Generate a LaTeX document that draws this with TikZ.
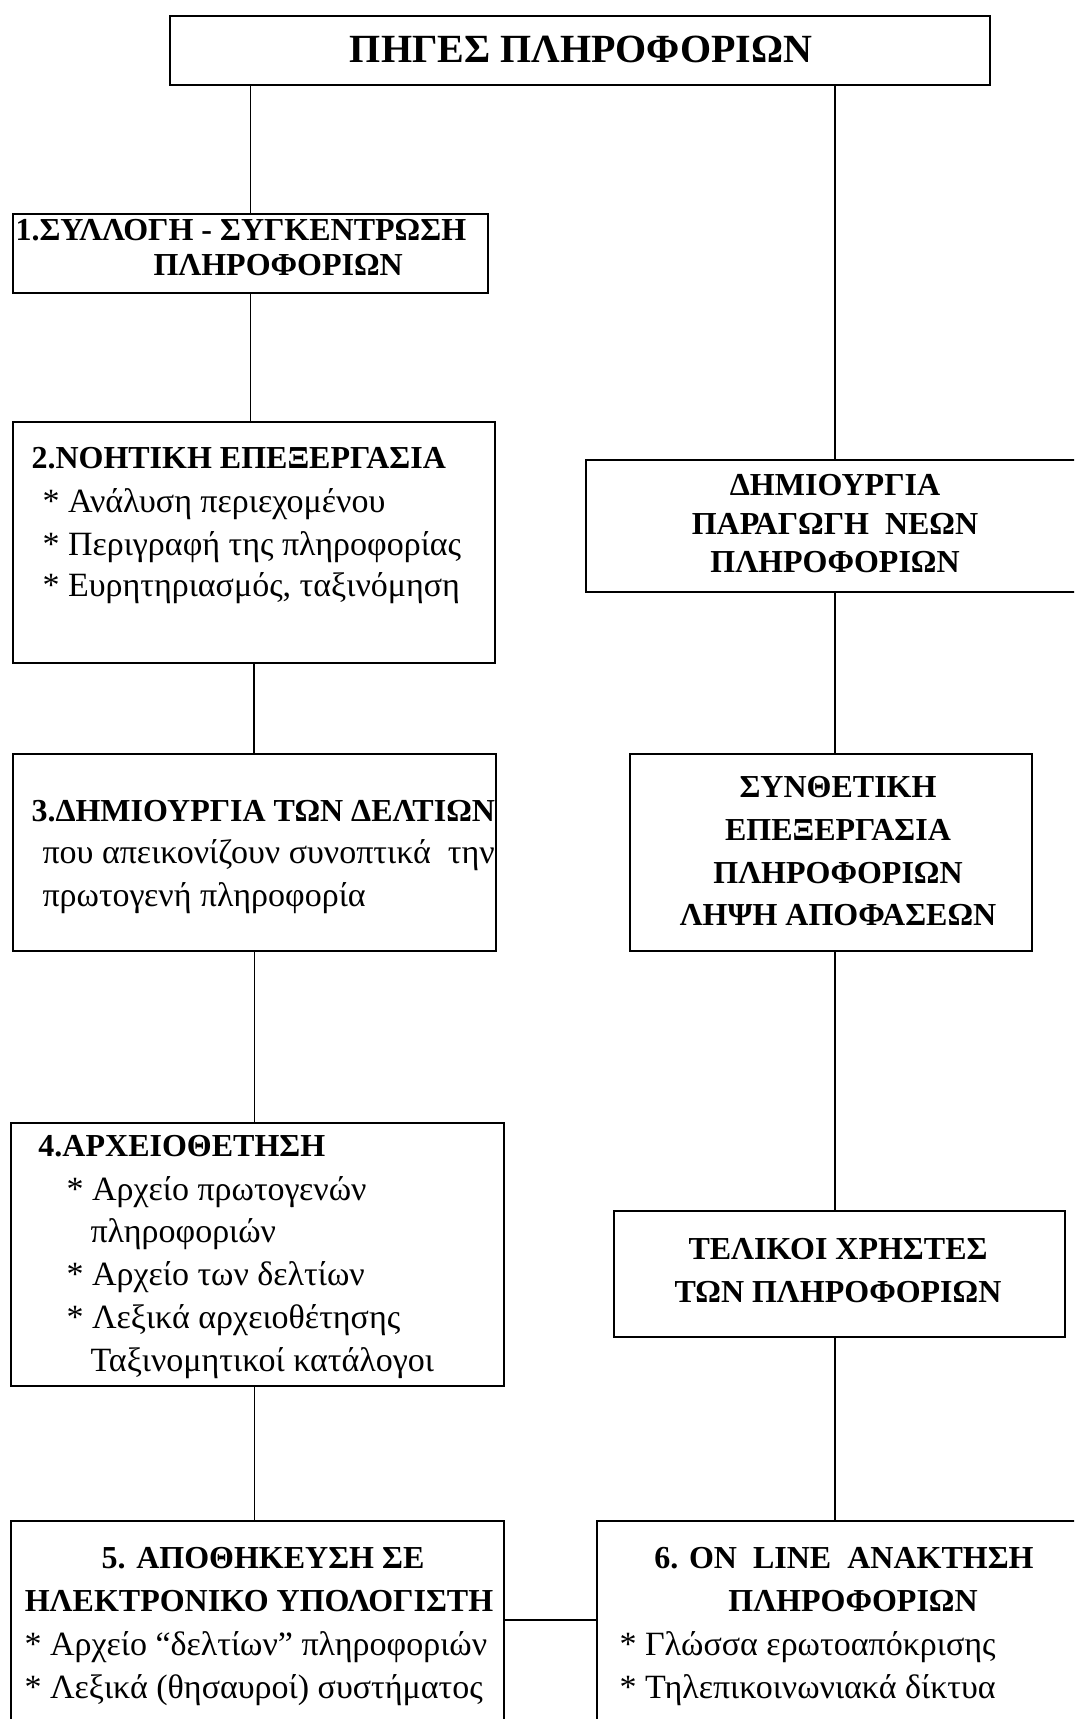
\documentclass[tikz,border=0pt]{standalone}
\usepackage{fontspec}
\setmainfont{Liberation Serif}
\usetikzlibrary{fit}

\tikzset{every picture/.style={line width=0.75pt}}
\tikzset{
  boxnode/.style={draw, line width=1.4pt, rectangle, inner sep=0pt},
  headtext/.style={inner sep=0pt, font=\fontsize{24}{28}\selectfont\bfseries},
  toptext/.style={inner sep=0pt, font=\fontsize{30}{34}\selectfont\bfseries},
  itemtext/.style={inner sep=0pt, font=\fontsize{25.5}{30}\selectfont},
  link/.style={line width=1pt},
}

\begin{document}
\begin{tikzpicture}[x=0.75pt,y=0.75pt,yscale=-1,xscale=1]
\clip (0,0) rectangle (1074,1719);

% Boxes
\node [boxnode, fit={(170,16) (990,85)}] (top) {};
\node [boxnode, fit={(13,214) (488,293)}] (b1) {};
\node [boxnode, fit={(13,422) (495,663)}] (b2) {};
\node [boxnode, fit={(13,754) (496,951)}] (b3) {};
\node [boxnode, fit={(11,1123) (504,1386)}] (b4) {};
\node [boxnode, fit={(11,1521) (504,1730)}] (b5) {};
\node [boxnode, fit={(597,1521) (1090,1730)}] (b6) {};
\node [boxnode, fit={(586,460) (1084,592)}] (r1) {};
\node [boxnode, fit={(630,754) (1032,951)}] (r2) {};
\node [boxnode, fit={(614,1211) (1065,1337)}] (r3) {};
\coordinate (join) at (504,1620);

% Straight Lines
\draw [link] (b1.north) -- (b1.north |- top.south);
\draw [link] (b1.south) -- (b1.south |- b2.north);
\draw [link] (b2.south) -- (b2.south |- b3.north);
\draw [link] (b3.south) -- (b3.south |- b4.north);
\draw [link] (b4.south -| b3.south) -- (b5.north -| b3.south);
\draw [link] (r1.north) -- (r1.north |- top.south);
\draw [link] (r1.south) -- (r1.south |- r2.north);
\draw [link] (r2.south -| r1.south) -- (r3.north -| r1.south);
\draw [link] (r3.south -| r1.south) -- (b6.north -| r1.south);
\draw [link] (b5.east |- join) -- (b6.west |- join);

% Text Node
\draw (581,63) node [toptext, anchor=base] (ttop) {ΠΗΓΕΣ ΠΛΗΡΟΦΟΡΙΩΝ};
% Text Node
\draw (15,241) node [headtext, anchor=base west] (t1a) {1.ΣΥΛΛΟΓΗ - ΣΥΓΚΕΝΤΡΩΣΗ};
\draw (153,276) node [headtext, anchor=base west] (t1b) {ΠΛΗΡΟΦΟΡΙΩΝ};
% Text Node
\draw (31,468) node [headtext, anchor=base west] (t2a) {2.ΝΟΗΤΙΚΗ ΕΠΕΞΕΡΓΑΣΙΑ};
\draw (42,512) node [itemtext, anchor=base west] (t2b) {* Ανάλυση περιεχομένου};
\draw (42,555) node [itemtext, anchor=base west] (t2c) {* Περιγραφή της πληροφορίας};
\draw (42,596) node [itemtext, anchor=base west] (t2d) {* Ευρητηριασμός, ταξινόμηση};
% Text Node
\draw (31,821) node [headtext, anchor=base west] (t3a) {3.ΔΗΜΙΟΥΡΓΙΑ ΤΩΝ ΔΕΛΤΙΩΝ};
\draw (42,863) node [itemtext, anchor=base west] (t3b) {που απεικονίζουν συνοπτικά\ \ την};
\draw (42,906) node [itemtext, anchor=base west] (t3c) {πρωτογενή πληροφορία};
% Text Node
\draw (38,1156) node [headtext, anchor=base west] (t4a) {4.ΑΡΧΕΙΟΘΕΤΗΣΗ};
\draw (66,1200) node [itemtext, anchor=base west] (t4b) {* Αρχείο πρωτογενών};
\draw (90,1242) node [itemtext, anchor=base west] (t4c) {πληροφοριών};
\draw (66,1285) node [itemtext, anchor=base west] (t4d) {* Αρχείο των δελτίων};
\draw (66,1328) node [itemtext, anchor=base west] (t4e) {* Λεξικά αρχειοθέτησης};
\draw (90,1371) node [itemtext, anchor=base west] (t4f) {Ταξινομητικοί κατάλογοι};
% Text Node
\draw (263,1568) node [headtext, anchor=base] (t5a) {5. ΑΠΟΘΗΚΕΥΣΗ ΣΕ};
\draw (259,1611) node [headtext, anchor=base] (t5b) {ΗΛΕΚΤΡΟΝΙΚΟ ΥΠΟΛΟΓΙΣΤΗ};
\draw (24,1655) node [itemtext, anchor=base west] (t5c) {* Αρχείο “δελτίων” πληροφοριών};
\draw (24,1698) node [itemtext, anchor=base west] (t5d) {* Λεξικά (θησαυροί) συστήματος};
% Text Node
\draw (844,1568) node [headtext, anchor=base] (t6a) {6. ON\ \ LINE\ \ ΑΝΑΚΤΗΣΗ};
\draw (853,1611) node [headtext, anchor=base] (t6b) {ΠΛΗΡΟΦΟΡΙΩΝ};
\draw (619,1655) node [itemtext, anchor=base west] (t6c) {* Γλώσσα ερωτοαπόκρισης};
\draw (619,1698) node [itemtext, anchor=base west] (t6d) {* Τηλεπικοινωνιακά δίκτυα};
% Text Node
\draw (835,495) node [headtext, anchor=base] (r1a) {ΔΗΜΙΟΥΡΓΙΑ};
\draw (835,534) node [headtext, anchor=base] (r1b) {ΠΑΡΑΓΩΓΗ\ \ ΝΕΩΝ};
\draw (835,572) node [headtext, anchor=base] (r1c) {ΠΛΗΡΟΦΟΡΙΩΝ};
% Text Node
\draw (838,797) node [headtext, anchor=base] (r2a) {ΣΥΝΘΕΤΙΚΗ};
\draw (838,840) node [headtext, anchor=base] (r2b) {ΕΠΕΞΕΡΓΑΣΙΑ};
\draw (838,883) node [headtext, anchor=base] (r2c) {ΠΛΗΡΟΦΟΡΙΩΝ};
\draw (838,925) node [headtext, anchor=base] (r2d) {ΛΗΨΗ ΑΠΟΦΑΣΕΩΝ};
% Text Node
\draw (838,1259) node [headtext, anchor=base] (r3a) {ΤΕΛΙΚΟΙ ΧΡΗΣΤΕΣ};
\draw (838,1302) node [headtext, anchor=base] (r3b) {ΤΩΝ ΠΛΗΡΟΦΟΡΙΩΝ};

\end{tikzpicture}
\end{document}
